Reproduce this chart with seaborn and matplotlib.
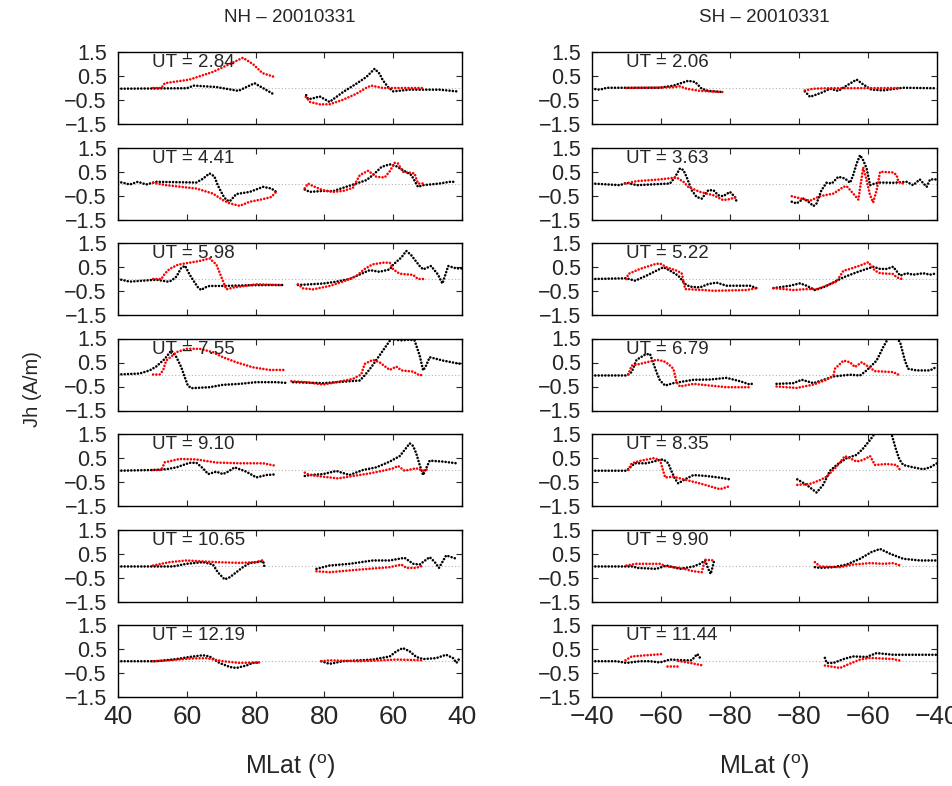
import numpy as np
import pandas as pd
import matplotlib
matplotlib.use('Agg')
import matplotlib.pyplot as plt
import seaborn as sns

# along-track position u: 0..100, pole crossing in the middle
TICK_POS = [0, 20, 40, 60, 80, 100]
NH_TICKLABELS = ['40', '60', '80', '80', '60', '40']
SH_TICKLABELS = ['\u221240', '\u221260', '\u221280', '\u221280', '\u221260', '\u221240']
YTICKS = [-1.5, -0.5, 0.5, 1.5]
YTICKLABELS = ['\u22121.5', '\u22120.5', '0.5', '1.5']

NH_UT = ['2.84', '4.41', '5.98', '7.55', '9.10', '10.65', '12.19']
SH_UT = ['2.06', '3.63', '5.22', '6.79', '8.35', '9.90', '11.44']

# each panel: list of segments, each segment a list of (u, Jh)
NH_BLACK = [
    [[(0, -0.03), (20, -0.01), (22, 0.1), (28.6, 0.04), (35, -0.12), (39.7, 0.2), (45, -0.24)],
     [(54.7, -0.3), (55.2, -0.45), (56.2, -0.45), (58.6, -0.35), (61.5, -0.58), (65.4, -0.17), (69.3, 0.18),
      (72.2, 0.46), (74.6, 0.8), (76, 0.6), (77, 0.32), (78.5, 0.04), (80, -0.14), (84.8, -0.07),
      (93.5, -0.07), (98.4, -0.14)]],
    [[(0, 0.07), (1.5, 0.03), (3.4, -0.04), (5.8, 0.07), (8.2, -0.04), (11.1, 0.07), (22.8, 0.04), (24.7, 0.2),
      (26.6, 0.42), (28, 0.3), (29, -0.07), (30.5, -0.49), (31.5, -0.69), (32.5, -0.74), (34.4, -0.44),
      (38.3, -0.35), (42.2, -0.14), (44.6, -0.21), (46, -0.35)],
     [(54.3, -0.25), (55.7, -0.35), (59.6, -0.31), (62.5, -0.32), (65.4, -0.18), (69.3, 0), (72.2, 0.14),
      (74.1, 0.35), (76.6, 0.69), (79, 0.8), (80.9, 0.72), (82.8, 0.56), (85.3, 0.35), (87.2, -0.14),
      (88.7, -0.07), (93.5, 0), (96.4, 0.07), (98.4, 0.07)]],
    [[(0, 0), (3.4, -0.11), (11.1, -0.03), (14.5, -0.11), (15.5, -0.07), (17, 0.1), (18.4, 0.47), (19.5, 0.55),
      (20.8, 0.19), (22.3, -0.15), (23.3, -0.36), (24.2, -0.46), (25.2, -0.36), (26.6, -0.29), (30.5, -0.29),
      (38.3, -0.26), (44, -0.25), (48, -0.25)],
     [(52.3, -0.25), (59.6, -0.19), (63.5, -0.11), (67.3, 0), (70.3, 0.19), (73.2, 0.37), (76, 0.3), (79, 0.4),
      (80, 0.6), (82.4, 0.9), (83.8, 1.17), (85.2, 1.0), (87.7, 0.54), (88.7, 0.4), (91, 0.54), (93, 0.19),
      (94.3, -0.19), (96, 0.54), (98.4, 0.44), (100, 0.44)]],
    [[(0, 0), (6.3, 0.04), (9.2, 0.17), (11.1, 0.33), (13.6, 0.65), (15.5, 1.0), (17, 0.72), (18.4, 0.3),
      (19.4, -0.11), (20.3, -0.46), (21.3, -0.57), (26.6, -0.53), (30.5, -0.43), (35.4, -0.39), (40.2, -0.32),
      (46, -0.32), (48.9, -0.35)],
     [(50.9, -0.32), (59.6, -0.36), (70.3, -0.25), (71.7, -0.04), (73.6, 0.3), (76, 0.79), (78, 1.2),
      (79.5, 1.5), (81.9, 1.42), (84.8, 1.45), (86.2, 1.42), (87.7, 0.79), (88.7, 0.17), (89.6, 0.38),
      (90.6, 0.72), (94.5, 0.58), (98.4, 0.47), (100, 0.44)]],
    [[(0, -0.03), (10.2, 0), (14, 0.03), (17, 0.11), (20.8, 0.3), (22.8, 0.3), (24.7, 0.07), (26.2, -0.17),
      (28.6, -0.07), (30.5, -0.17), (32, -0.07), (33.9, 0.11), (37.3, -0.07), (40.2, -0.31), (43.1, -0.21),
      (46, -0.18)],
     [(54.3, -0.25), (55.7, -0.21), (59.6, -0.17), (63.5, -0.04), (67.3, -0.21), (71.2, 0), (75.1, 0.11),
      (79, 0.35), (81.9, 0.58), (83.3, 0.83), (84.8, 1.11), (85.8, 1.0), (86.7, 0.69), (87.7, 0.21),
      (88.7, -0.21), (90.6, 0.39), (94.5, 0.35), (98.4, 0.28)]],
    [[(0, -0.04), (16, -0.04), (19.9, 0.07), (24.7, 0.14), (27.6, 0.04), (29, -0.28), (31, -0.58),
      (32.5, -0.49), (34.4, -0.28), (36.3, -0.07), (38.3, 0.1), (40.2, 0.14), (42.2, 0.18), (42.6, -0.07)],
     [(57.7, -0.14), (61.5, 0), (67.3, 0.07), (74.1, 0.21), (79, 0.21), (83.3, 0.32), (85.8, 0.07),
      (87.7, 0.04), (90.6, 0.35), (92.1, 0.14), (93.3, -0.1), (95.4, 0.42), (98.4, 0.28)]],
    [[(0, -0.01), (11.1, -0.01), (17, 0.08), (20.8, 0.17), (24.7, 0.24), (26.6, 0.19), (29.5, -0.08),
      (32.5, -0.25), (34.4, -0.29), (37.3, -0.19), (39.2, -0.08), (41.2, -0.06)],
     [(59.1, -0.01), (61.5, -0.12), (65.4, -0.01), (74.1, 0.06), (79, 0.19), (80.9, 0.4), (82.8, 0.54),
      (84.8, 0.4), (86.7, 0.17), (88.7, 0.08), (92.5, 0.12), (95.4, 0.26), (97.4, 0.12), (98.4, -0.08),
      (99.3, 0.12)]],
]

NH_RED = [
    [[(10.2, 0), (12.6, 0), (13.6, 0.2), (20.8, 0.35), (27.6, 0.67), (32.5, 1.0), (36.3, 1.26), (39.2, 1.0),
      (42, 0.62), (45.5, 0.46)],
     [(54.6, -0.37), (55.8, -0.58), (58.6, -0.68), (61.5, -0.68), (65.4, -0.49), (69.3, -0.24), (72.2, 0.01),
      (73.6, 0.1), (77, 0), (88.7, 0)]],
    [[(10.2, 0.03), (14, -0.07), (22.8, -0.21), (27.6, -0.42), (30.5, -0.69), (32.5, -0.83), (35.4, -0.93),
      (38.3, -0.76), (42.2, -0.65), (44.6, -0.56), (46, -0.35)],
     [(54.3, -0.2), (55.2, 0), (56.7, -0.11), (59.6, -0.28), (62.5, -0.35), (65.4, -0.31), (68.3, -0.18),
      (70.3, 0.35), (72.7, 0.53), (75.1, 0.28), (77.5, 0.25), (79, 0.51), (80.4, 0.86), (81.4, 0.83),
      (82.8, 0.49), (86.2, 0.42), (87.2, 0), (88.7, 0)]],
    [[(10.2, 0), (12.6, 0), (13.6, 0.22), (15, 0.42), (17.5, 0.6), (20.8, 0.68), (23.7, 0.75), (26.6, 0.86),
      (28.6, 0.6), (30, 0.1), (31.5, -0.43), (33.4, -0.36), (40.2, -0.22), (48, -0.26)],
     [(52.3, -0.22), (53.8, -0.39), (56.7, -0.43), (61.5, -0.29), (65.4, -0.11), (69.3, 0.12), (71.5, 0.4),
      (74, 0.61), (77, 0.68), (79, 0.68), (80, 0.4), (81.9, 0.22), (85.8, 0.17), (87.2, 0), (88.7, 0)]],
    [[(10.2, 0), (12.1, 0), (13.1, 0.17), (14, 0.58), (17, 0.93), (19.9, 1.07), (23.7, 1.07), (27.6, 0.93),
      (30.5, 0.72), (34.4, 0.51), (39.2, 0.3), (44, 0.19), (48.9, 0.19)],
     [(50.4, -0.28), (54.7, -0.32), (59.6, -0.42), (63.5, -0.32), (68.3, -0.18), (70.7, 0), (71.7, 0.44),
      (74.1, 0.61), (76, 0.51), (79, 0.19), (80.9, 0.33), (82.4, 0.17), (85.8, 0.12), (87.7, -0.04), (88.7, 0)]],
    [[(10.2, 0), (12.6, 0), (13.6, 0.32), (17.9, 0.46), (22.8, 0.44), (28.6, 0.31), (35.4, 0.28), (42.2, 0.28),
      (46, 0.17)],
     [(54.3, -0.11), (55.7, -0.21), (59.6, -0.28), (64, -0.35), (68.3, -0.25), (73.2, -0.14), (77, -0.03),
      (80, 0.07), (81.4, 0.17), (83.3, -0.03), (86.7, 0.07), (88.7, -0.03), (90.1, 0.03)]],
    [[(10.2, 0), (13.6, 0.1), (15, 0.14), (19.9, 0.21), (28.6, 0.14), (35.4, 0.11), (40.2, 0.14), (42.6, 0.24)],
     [(57.7, -0.24), (61.5, -0.28), (69.3, -0.18), (79, -0.07), (82.4, 0.04), (83.8, -0.1), (86.7, -0.1),
      (88.7, 0)]],
    [[(10.2, -0.01), (15, 0.03), (20.8, 0.1), (25.7, 0.12), (30.5, -0.01), (35.4, -0.08), (41.2, -0.06)],
     [(59.1, -0.01), (61.5, 0.03), (69.3, -0.01), (74.1, 0.01), (80.9, 0.06), (88.7, 0.03)]],
]

SH_BLACK = [
    [[(0, -0.03), (2.3, -0.07), (4.3, 0.01), (19.7, 0.01), (23.6, 0.1), (27.9, 0.3), (29.9, 0.25),
      (31.8, -0.03), (33.7, -0.12), (38, -0.17)],
     [(61.7, -0.14), (63.2, -0.37), (67, -0.17), (69, -0.03), (71.4, -0.12), (73.8, 0.1), (76.7, 0.35),
      (78.6, 0.15), (81, -0.07), (84.4, -0.1), (90.2, 0.01), (100, -0.01)]],
    [[(0, 0), (8.1, -0.07), (10, 0.03), (13, -0.07), (22.6, 0), (24, 0.25), (25.5, 0.63), (26.5, 0.56),
      (27.4, 0.28), (28.9, -0.28), (30.3, -0.56), (31.8, -0.63), (33.7, -0.28), (35.2, -0.28), (36.6, -0.49),
      (38, -0.53), (40, -0.35), (41.4, -0.56), (41.9, -0.74)],
     [(57.9, -0.76), (59.3, -0.83), (61.3, -0.63), (62.7, -0.76), (64.2, -0.94), (65.1, -0.83), (66.5, -0.28),
      (68, 0.03), (69.5, 0), (71.4, 0.28), (73.3, 0.21), (74.8, 0.03), (75.7, 0.35), (76.7, 0.83),
      (77.7, 1.18), (78.6, 0.97), (79.6, 0.63), (80.6, -0.07), (82, 0), (83.5, 0.04), (87.3, 0.03),
      (91.2, 0.07), (93.1, -0.07), (95, 0.17), (97, -0.14), (98, 0.17), (100, 0.17)]],
    [[(0, 0), (10, 0.03), (12.5, -0.07), (15.8, 0.14), (18.7, 0.35), (20.7, 0.49), (22.6, 0.35), (25, 0.14),
      (27, -0.21), (28.4, -0.32), (31.3, -0.35), (33.7, -0.21), (36.1, -0.15), (39, -0.28), (42.9, -0.28),
      (45.8, -0.28), (47.7, -0.38)],
     [(52.6, -0.38), (57.4, -0.28), (60.3, -0.18), (62.2, -0.28), (64.6, -0.46), (67, -0.35), (70, -0.14),
      (72.9, 0.07), (76.7, 0.28), (79.6, 0.42), (81.5, 0.51), (83.5, 0.42), (85.4, 0.42), (87.3, 0.51),
      (89.3, 0.14), (91.2, 0.24), (93.1, 0.18), (96, 0.24), (98, 0.18), (100, 0.24)]],
    [[(0, -0.04), (10, -0.04), (11.5, 0.1), (12.9, 0.61), (15.4, 0.83), (16.8, 0.86), (18.7, 0.1),
      (19.7, -0.25), (21.2, -0.46), (23.6, -0.36), (29.4, -0.22), (34.2, -0.21), (39, -0.14), (42.9, -0.28),
      (45.8, -0.42), (46.3, -0.39)],
     [(53.5, -0.39), (58.4, -0.36), (60.8, -0.22), (64.2, -0.36), (68, -0.18), (70, -0.08), (74.8, -0.01),
      (77.7, -0.04), (79.6, 0.17), (82.5, 0.58), (84.4, 1.14), (86, 1.55), (88, 1.55), (89.3, 1.35),
      (90.7, 0.58), (91.6, 0.24), (94.1, 0.17), (98, 0.17), (100, 0.33)]],
    [[(0, -0.03), (10, -0.03), (11.5, 0.17), (12.5, 0.28), (15.8, 0.28), (19.7, 0.42), (20.7, 0.44),
      (22.1, 0.28), (23.1, -0.07), (24, -0.35), (25, -0.56), (26.9, -0.39), (29.4, -0.21), (33.2, -0.25),
      (37.1, -0.32), (40, -0.39)],
     [(59.5, -0.39), (62.2, -0.62), (65.1, -0.94), (67, -0.62), (69, -0.03), (70.9, 0.21), (73.8, 0.49),
      (76.7, 0.63), (78.6, 0.9), (80.6, 1.25), (82, 1.53), (84.5, 1.7), (86.9, 1.46), (88.1, 0.86),
      (89.1, 0.44), (90.2, 0.21), (93.1, 0.11), (96, 0.03), (98, 0.11), (100, 0.28)]],
    [[(0, -0.04), (12, -0.04), (12.9, -0.1), (18.7, -0.14), (21.6, 0), (25.5, -0.14), (29.4, -0.04),
      (31.3, 0.07), (32.8, 0.21), (33.7, -0.14), (34.4, -0.35), (35.2, 0.07), (35.4, 0.21)],
     [(64.6, -0.07), (66.1, -0.1), (70, -0.07), (73.8, 0.04), (77.7, 0.28), (81, 0.56), (83.5, 0.69),
      (86.4, 0.49), (90.2, 0.28), (95, 0.21), (100, 0.21)]],
    [[(0, -0.01), (7.1, -0.01), (10, -0.08), (13.9, -0.01), (16.8, -0.01), (19.7, -0.06), (22.6, 0.06),
      (26.5, 0.03), (28.9, 0.03), (30.5, 0.29), (31.1, 0.19), (31.6, 0.03)],
     [(67.5, 0.13), (68, -0.08), (70, -0.08), (72.9, 0.08), (75.7, 0.19), (79.6, 0.17), (82.5, 0.33),
      (87.3, 0.26), (100, 0.26)]],
]

SH_RED = [
    [[(10, 0), (23.6, 0.03), (25.5, 0.07), (27.4, -0.03), (31.3, -0.12), (38, -0.17)],
     [(61.7, -0.1), (64.2, -0.03), (68, -0.01), (89.3, 0)]],
    [[(9.7, 0), (13, 0.1), (19.7, 0.17), (24.5, 0.25), (26.5, 0.07), (27.9, -0.14), (31.3, -0.35),
      (35.2, -0.49), (38, -0.69), (40, -0.65), (41.9, -0.56)],
     [(57.9, -0.53), (63.2, -0.72), (66, -0.53), (70, -0.42), (72.9, -0.14), (73.8, -0.11), (75.3, -0.35),
      (77.2, -0.67), (78.2, 0.28), (78.6, 0.67), (79.4, 0.25), (80.6, -0.49), (81.5, -0.79), (82.5, -0.28),
      (83.5, 0.49), (87.3, 0.46), (88.3, 0.35), (88.8, 0.07), (90.2, 0)]],
    [[(10, 0), (10.5, 0.21), (13.9, 0.42), (18.3, 0.62), (19.7, 0.65), (21.6, 0.49), (24.5, 0.35), (26, 0.24),
      (27, -0.42), (32.3, -0.46), (35.2, -0.49), (44.8, -0.46), (47.7, -0.38)],
     [(52.6, -0.38), (58.4, -0.46), (62.2, -0.42), (65.1, -0.42), (68, -0.28), (70.9, -0.1), (72.9, 0.35),
      (74.8, 0.42), (77.7, 0.56), (80.1, 0.7), (82, 0.35), (83.5, 0.24), (87.3, 0.21), (88.3, 0.07),
      (89.8, 0)]],
    [[(10.5, 0), (11.5, 0.37), (13.9, 0.44), (18.7, 0.61), (20.7, 0.56), (22.1, 0.44), (23.6, 0.24),
      (24.5, -0.32), (25.5, -0.5), (29.4, -0.39), (34.2, -0.46), (39, -0.53), (46.3, -0.53)],
     [(53.5, -0.5), (59.3, -0.56), (64.2, -0.42), (68, -0.22), (70, -0.04), (70.4, 0.24), (72.9, 0.58),
      (74.8, 0.51), (76.2, 0.31), (78.2, 0.51), (80.1, 0.33), (82, 0.14), (87.3, 0.1), (89.3, -0.04)]],
    [[(10.5, 0), (11.5, 0.28), (13.9, 0.38), (17.8, 0.49), (19.7, 0.42), (21.2, -0.31), (23.6, -0.28),
      (27.4, -0.42), (31.3, -0.56), (37.1, -0.8), (40, -0.67)],
     [(59.5, -0.62), (63.2, -0.58), (66.1, -0.42), (68, -0.28), (70.9, 0.14), (73.3, 0.58), (74.8, 0.49),
      (76.7, 0.35), (78.6, 0.42), (80.6, 0.58), (82, 0.21), (85.4, 0.25), (88.3, 0.21), (89.3, 0)]],
    [[(10, 0), (12.9, 0.07), (19.7, 0.07), (21.6, -0.04), (25.5, -0.1), (29.4, -0.24), (31.8, -0.28),
      (32.8, 0.24), (35.4, 0.21)],
     [(64.6, 0.14), (66.1, -0.04), (71.9, -0.07), (75.7, 0.04), (80.6, 0.1), (84.4, 0.07), (87.3, 0.1),
      (89.3, 0)]],
    [[(9.7, 0.03), (11.5, 0.19), (15.8, 0.24), (20.7, 0.29)],
     [(21.6, -0.19), (24.5, -0.19)],
     [(25, 0.0), (28.4, -0.08), (32.3, -0.19)],
     [(67.5, -0.19), (71.9, -0.29), (74.8, -0.11), (77.7, 0.06), (80.6, 0.13), (87.3, 0.08), (89.8, 0)]],
]

# long table
rows = []
for hemi, blacks, reds in (('NH', NH_BLACK, NH_RED), ('SH', SH_BLACK, SH_RED)):
    for p in range(7):
        for series, segs in (('black', blacks[p]), ('red', reds[p])):
            for s, seg in enumerate(segs):
                for u, v in seg:
                    rows.append((hemi, p, series, s, u, v))
df = pd.DataFrame(rows, columns=['hemi', 'panel', 'series', 'seg', 'u', 'jh'])

sns.set_style('ticks')
plt.rcParams['font.family'] = ['Liberation Sans', 'DejaVu Sans']
plt.rcParams['mathtext.fontset'] = 'custom'
plt.rcParams['mathtext.rm'] = 'Liberation Sans'
plt.rcParams['axes.linewidth'] = 1.0

W, H = 952, 786
fig = plt.figure(figsize=(W / 100, H / 100), dpi=100)

cols = {'NH': (118, 344, NH_TICKLABELS, NH_UT), 'SH': (592, 345, SH_TICKLABELS, SH_UT)}
dots = dict(linestyle=(0, (0.01, 1.25)), lw=1.9, dash_capstyle='round')

for hemi, (x0, w, xlabs, uts) in cols.items():
    for p in range(7):
        top = 52 + 95.5 * p
        ax = fig.add_axes([x0 / W, 1 - (top + 72) / H, w / W, 72 / H])
        sub = df[(df.hemi == hemi) & (df.panel == p)]
        ax.axhline(0, color='0.7', lw=0.8, ls=(0, (1, 2)), zorder=0)
        sns.lineplot(data=sub, x='u', y='jh', hue='series', units='seg', estimator=None, sort=False,
                     hue_order=['black', 'red'], palette={'black': 'k', 'red': 'red'},
                     legend=False, ax=ax, **dots)
        ax.set_xlim(0, 100)
        ax.set_ylim(-1.5, 1.5)
        ax.set_xticks(TICK_POS)
        ax.set_yticks(YTICKS)
        ax.set_yticklabels(YTICKLABELS)
        ax.set_xlabel('')
        ax.set_ylabel('')
        if p == 6:
            ax.set_xticklabels(xlabs)
        else:
            ax.set_xticklabels([])
        ax.tick_params(axis='both', direction='in', top=True, right=True, length=4, width=0.8)
        ax.tick_params(axis='y', labelsize=15.5, pad=8)
        ax.tick_params(axis='x', labelsize=19, pad=6)
        for sp in ax.spines.values():
            sp.set_visible(True)
            sp.set_color('k')
        ax.text(0.1, 0.85, f'UT = {uts[p]}', transform=ax.transAxes, va='center', ha='left', fontsize=13.5)

    cx = (x0 + w / 2) / W
    fig.text(cx, 1 - 18 / H, f'{hemi} \u2013 20010331', ha='center', va='center', fontsize=13.5)
    fig.text(cx, 1 - 767 / H, r'MLat ($^{\mathrm{o}}$)', ha='center', va='center', fontsize=18)

fig.text(32 / W, 0.505, 'Jh (A/m)', rotation=90, ha='center', va='center', fontsize=14.5)

fig.savefig('out.png', dpi=100)
